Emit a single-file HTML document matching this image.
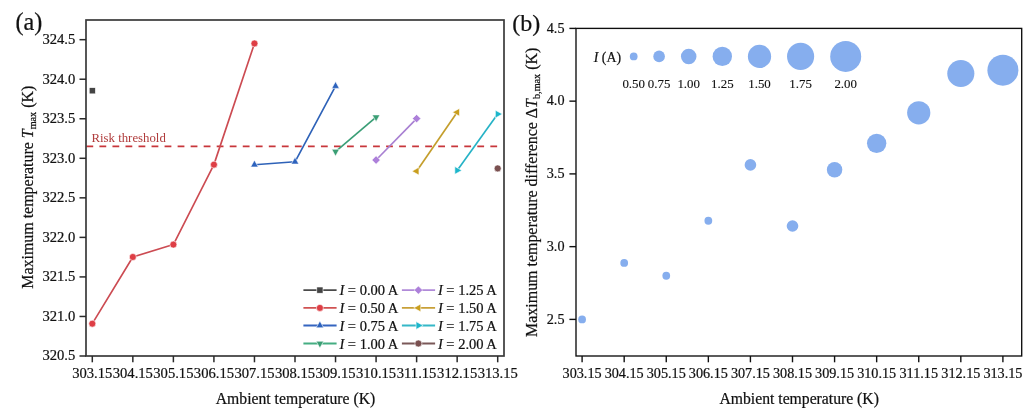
<!DOCTYPE html><html><head><meta charset="utf-8"><style>html,body{margin:0;padding:0;background:#fff;}svg{display:block;will-change:transform;}text{font-family:"Liberation Serif",serif;fill:#111;stroke:#111;stroke-width:0.22px;}</style></head><body>
<svg width="1024" height="409" viewBox="0 0 1024 409">
<rect width="1024" height="409" fill="#fff"/>
<line x1="86.4" y1="146.4" x2="499" y2="146.4" stroke="#c8363b" stroke-width="1.6" stroke-dasharray="6.8 6.23"/>
<text x="91.5" y="141.7" font-size="12.8" style="fill:#b03c3c;stroke:none">Risk threshold</text>
<rect x="89.20" y="87.67" width="6.20" height="6.20" fill="#444444" stroke="#fff" stroke-width="0.6"/>
<path d="M92.30 323.66L132.84 256.99L173.38 244.58L213.92 164.63L254.46 43.48" fill="none" stroke="#cc4b52" stroke-width="1.65" stroke-linejoin="round"/>
<circle cx="92.30" cy="323.66" r="3.50" fill="#de3e45" stroke="#fff" stroke-width="0.6"/>
<circle cx="132.84" cy="256.99" r="3.50" fill="#de3e45" stroke="#fff" stroke-width="0.6"/>
<circle cx="173.38" cy="244.58" r="3.50" fill="#de3e45" stroke="#fff" stroke-width="0.6"/>
<circle cx="213.92" cy="164.63" r="3.50" fill="#de3e45" stroke="#fff" stroke-width="0.6"/>
<circle cx="254.46" cy="43.48" r="3.50" fill="#de3e45" stroke="#fff" stroke-width="0.6"/>
<path d="M254.46 164.71L295.00 161.78L335.54 86.10" fill="none" stroke="#2e62b8" stroke-width="1.65" stroke-linejoin="round"/>
<path d="M254.46 160.15L258.26 166.99L250.66 166.99Z" fill="#2c62bd" stroke="#fff" stroke-width="0.6"/>
<path d="M295.00 157.22L298.80 164.06L291.20 164.06Z" fill="#2c62bd" stroke="#fff" stroke-width="0.6"/>
<path d="M335.54 81.54L339.34 88.38L331.74 88.38Z" fill="#2c62bd" stroke="#fff" stroke-width="0.6"/>
<path d="M335.54 151.58L376.08 117.18" fill="none" stroke="#3a9e76" stroke-width="1.65" stroke-linejoin="round"/>
<path d="M335.54 156.14L339.34 149.30L331.74 149.30Z" fill="#3a9e74" stroke="#fff" stroke-width="0.6"/>
<path d="M376.08 121.74L379.88 114.90L372.28 114.90Z" fill="#3a9e74" stroke="#fff" stroke-width="0.6"/>
<path d="M376.08 160.04L416.62 118.60" fill="none" stroke="#a880d2" stroke-width="1.65" stroke-linejoin="round"/>
<path d="M376.08 155.84L380.28 160.04L376.08 164.24L371.88 160.04Z" fill="#ad80da" stroke="#fff" stroke-width="0.6"/>
<path d="M416.62 114.40L420.82 118.60L416.62 122.80L412.42 118.60Z" fill="#ad80da" stroke="#fff" stroke-width="0.6"/>
<path d="M416.62 171.19L457.16 112.28" fill="none" stroke="#c49e2c" stroke-width="1.65" stroke-linejoin="round"/>
<path d="M411.94 171.19L418.96 167.29L418.96 175.09Z" fill="#c99e1e" stroke="#fff" stroke-width="0.6"/>
<path d="M452.48 112.28L459.50 108.38L459.50 116.18Z" fill="#c99e1e" stroke="#fff" stroke-width="0.6"/>
<path d="M457.16 170.40L497.70 114.09" fill="none" stroke="#25b2c6" stroke-width="1.65" stroke-linejoin="round"/>
<path d="M461.84 170.40L454.82 166.50L454.82 174.30Z" fill="#1cb6cb" stroke="#fff" stroke-width="0.6"/>
<path d="M502.38 114.09L495.36 110.19L495.36 117.99Z" fill="#1cb6cb" stroke="#fff" stroke-width="0.6"/>
<circle cx="497.70" cy="168.42" r="3.50" fill="#7a5050" stroke="#fff" stroke-width="0.6"/>
<rect x="86.0" y="20.0" width="418.0" height="336.0" fill="none" stroke="#3a3a3a" stroke-width="1.7"/>
<line x1="79.5" y1="356.00" x2="86.0" y2="356.00" stroke="#2a2a2a" stroke-width="1.5"/>
<text x="75.3" y="360.40" font-size="14.6" text-anchor="end">320.5</text>
<line x1="79.5" y1="316.46" x2="86.0" y2="316.46" stroke="#2a2a2a" stroke-width="1.5"/>
<text x="75.3" y="320.86" font-size="14.6" text-anchor="end">321.0</text>
<line x1="79.5" y1="276.92" x2="86.0" y2="276.92" stroke="#2a2a2a" stroke-width="1.5"/>
<text x="75.3" y="281.32" font-size="14.6" text-anchor="end">321.5</text>
<line x1="79.5" y1="237.38" x2="86.0" y2="237.38" stroke="#2a2a2a" stroke-width="1.5"/>
<text x="75.3" y="241.78" font-size="14.6" text-anchor="end">322.0</text>
<line x1="79.5" y1="197.84" x2="86.0" y2="197.84" stroke="#2a2a2a" stroke-width="1.5"/>
<text x="75.3" y="202.24" font-size="14.6" text-anchor="end">322.5</text>
<line x1="79.5" y1="158.30" x2="86.0" y2="158.30" stroke="#2a2a2a" stroke-width="1.5"/>
<text x="75.3" y="162.70" font-size="14.6" text-anchor="end">323.0</text>
<line x1="79.5" y1="118.76" x2="86.0" y2="118.76" stroke="#2a2a2a" stroke-width="1.5"/>
<text x="75.3" y="123.16" font-size="14.6" text-anchor="end">323.5</text>
<line x1="79.5" y1="79.22" x2="86.0" y2="79.22" stroke="#2a2a2a" stroke-width="1.5"/>
<text x="75.3" y="83.62" font-size="14.6" text-anchor="end">324.0</text>
<line x1="79.5" y1="39.68" x2="86.0" y2="39.68" stroke="#2a2a2a" stroke-width="1.5"/>
<text x="75.3" y="44.08" font-size="14.6" text-anchor="end">324.5</text>
<line x1="92.30" y1="356.0" x2="92.30" y2="362.3" stroke="#2a2a2a" stroke-width="1.5"/>
<text x="92.30" y="378.1" font-size="14.6" text-anchor="middle">303.15</text>
<line x1="132.84" y1="356.0" x2="132.84" y2="362.3" stroke="#2a2a2a" stroke-width="1.5"/>
<text x="132.84" y="378.1" font-size="14.6" text-anchor="middle">304.15</text>
<line x1="173.38" y1="356.0" x2="173.38" y2="362.3" stroke="#2a2a2a" stroke-width="1.5"/>
<text x="173.38" y="378.1" font-size="14.6" text-anchor="middle">305.15</text>
<line x1="213.92" y1="356.0" x2="213.92" y2="362.3" stroke="#2a2a2a" stroke-width="1.5"/>
<text x="213.92" y="378.1" font-size="14.6" text-anchor="middle">306.15</text>
<line x1="254.46" y1="356.0" x2="254.46" y2="362.3" stroke="#2a2a2a" stroke-width="1.5"/>
<text x="254.46" y="378.1" font-size="14.6" text-anchor="middle">307.15</text>
<line x1="295.00" y1="356.0" x2="295.00" y2="362.3" stroke="#2a2a2a" stroke-width="1.5"/>
<text x="295.00" y="378.1" font-size="14.6" text-anchor="middle">308.15</text>
<line x1="335.54" y1="356.0" x2="335.54" y2="362.3" stroke="#2a2a2a" stroke-width="1.5"/>
<text x="335.54" y="378.1" font-size="14.6" text-anchor="middle">309.15</text>
<line x1="376.08" y1="356.0" x2="376.08" y2="362.3" stroke="#2a2a2a" stroke-width="1.5"/>
<text x="376.08" y="378.1" font-size="14.6" text-anchor="middle">310.15</text>
<line x1="416.62" y1="356.0" x2="416.62" y2="362.3" stroke="#2a2a2a" stroke-width="1.5"/>
<text x="416.62" y="378.1" font-size="14.6" text-anchor="middle">311.15</text>
<line x1="457.16" y1="356.0" x2="457.16" y2="362.3" stroke="#2a2a2a" stroke-width="1.5"/>
<text x="457.16" y="378.1" font-size="14.6" text-anchor="middle">312.15</text>
<line x1="497.70" y1="356.0" x2="497.70" y2="362.3" stroke="#2a2a2a" stroke-width="1.5"/>
<text x="497.70" y="378.1" font-size="14.6" text-anchor="middle">313.15</text>
<text x="295.5" y="404.1" font-size="15.7" text-anchor="middle">Ambient temperature (K)</text>
<text transform="translate(33,187.2) rotate(-90)" font-size="15.95" text-anchor="middle">Maximum temperature <tspan font-style="italic">T</tspan><tspan font-size="10.2" dy="3">max</tspan><tspan dy="-3"> (K)</tspan></text>
<text x="15.4" y="30.2" font-size="24.2">(a)</text>
<line x1="303.40" y1="290.10" x2="336.60" y2="290.10" stroke="#4a4a4a" stroke-width="1.85"/>
<rect x="316.80" y="287.00" width="6.20" height="6.20" fill="#444444" stroke="#fff" stroke-width="0.6"/>
<text x="339.40" y="295.10" font-size="14.5"><tspan font-style="italic">I</tspan> = 0.00 A</text>
<line x1="303.40" y1="307.90" x2="336.60" y2="307.90" stroke="#d05252" stroke-width="1.85"/>
<circle cx="319.90" cy="307.90" r="3.50" fill="#de3e45" stroke="#fff" stroke-width="0.6"/>
<text x="339.40" y="312.90" font-size="14.5"><tspan font-style="italic">I</tspan> = 0.50 A</text>
<line x1="303.40" y1="325.50" x2="336.60" y2="325.50" stroke="#3565c0" stroke-width="1.85"/>
<path d="M319.90 320.94L323.70 327.78L316.10 327.78Z" fill="#2c62bd" stroke="#fff" stroke-width="0.6"/>
<text x="339.40" y="330.50" font-size="14.5"><tspan font-style="italic">I</tspan> = 0.75 A</text>
<line x1="303.40" y1="343.50" x2="336.60" y2="343.50" stroke="#45ad82" stroke-width="1.85"/>
<path d="M319.90 348.06L323.70 341.22L316.10 341.22Z" fill="#3a9e74" stroke="#fff" stroke-width="0.6"/>
<text x="339.40" y="348.50" font-size="14.5"><tspan font-style="italic">I</tspan> = 1.00 A</text>
<line x1="401.90" y1="290.10" x2="435.10" y2="290.10" stroke="#b08ad8" stroke-width="1.85"/>
<path d="M418.40 285.90L422.60 290.10L418.40 294.30L414.20 290.10Z" fill="#ad80da" stroke="#fff" stroke-width="0.6"/>
<text x="437.90" y="295.10" font-size="14.5"><tspan font-style="italic">I</tspan> = 1.25 A</text>
<line x1="401.90" y1="307.90" x2="435.10" y2="307.90" stroke="#c8a038" stroke-width="1.85"/>
<path d="M413.72 307.90L420.74 304.00L420.74 311.80Z" fill="#c99e1e" stroke="#fff" stroke-width="0.6"/>
<text x="437.90" y="312.90" font-size="14.5"><tspan font-style="italic">I</tspan> = 1.50 A</text>
<line x1="401.90" y1="325.50" x2="435.10" y2="325.50" stroke="#35b8c8" stroke-width="1.85"/>
<path d="M423.08 325.50L416.06 321.60L416.06 329.40Z" fill="#1cb6cb" stroke="#fff" stroke-width="0.6"/>
<text x="437.90" y="330.50" font-size="14.5"><tspan font-style="italic">I</tspan> = 1.75 A</text>
<line x1="401.90" y1="343.50" x2="435.10" y2="343.50" stroke="#7a5858" stroke-width="1.85"/>
<circle cx="418.40" cy="343.50" r="3.50" fill="#7a5050" stroke="#fff" stroke-width="0.6"/>
<text x="437.90" y="348.50" font-size="14.5"><tspan font-style="italic">I</tspan> = 2.00 A</text>
<circle cx="582.10" cy="319.40" r="3.88" fill="#86aeee"/>
<circle cx="624.18" cy="262.95" r="3.88" fill="#86aeee"/>
<circle cx="666.26" cy="275.75" r="3.88" fill="#86aeee"/>
<circle cx="708.34" cy="220.75" r="3.88" fill="#86aeee"/>
<circle cx="750.42" cy="164.88" r="5.81" fill="#86aeee"/>
<circle cx="792.50" cy="225.99" r="5.81" fill="#86aeee"/>
<circle cx="834.58" cy="169.83" r="7.75" fill="#86aeee"/>
<circle cx="876.66" cy="143.34" r="9.69" fill="#86aeee"/>
<circle cx="918.74" cy="112.79" r="11.62" fill="#86aeee"/>
<circle cx="960.82" cy="73.50" r="13.56" fill="#86aeee"/>
<circle cx="1002.90" cy="70.16" r="15.50" fill="#86aeee"/>
<rect x="576.0" y="28.4" width="445.70000000000005" height="327.6" fill="none" stroke="#0d0d0d" stroke-width="1.35"/>
<line x1="569.4" y1="319.40" x2="576.0" y2="319.40" stroke="#111" stroke-width="1.4"/>
<text x="564.5" y="323.70" font-size="14.2" text-anchor="end">2.5</text>
<line x1="569.4" y1="246.65" x2="576.0" y2="246.65" stroke="#111" stroke-width="1.4"/>
<text x="564.5" y="250.95" font-size="14.2" text-anchor="end">3.0</text>
<line x1="569.4" y1="173.90" x2="576.0" y2="173.90" stroke="#111" stroke-width="1.4"/>
<text x="564.5" y="178.20" font-size="14.2" text-anchor="end">3.5</text>
<line x1="569.4" y1="101.15" x2="576.0" y2="101.15" stroke="#111" stroke-width="1.4"/>
<text x="564.5" y="105.45" font-size="14.2" text-anchor="end">4.0</text>
<line x1="569.4" y1="28.40" x2="576.0" y2="28.40" stroke="#111" stroke-width="1.4"/>
<text x="564.5" y="32.70" font-size="14.2" text-anchor="end">4.5</text>
<line x1="582.10" y1="356.0" x2="582.10" y2="362.3" stroke="#111" stroke-width="1.4"/>
<text x="582.10" y="377.9" font-size="14.2" text-anchor="middle">303.15</text>
<line x1="624.18" y1="356.0" x2="624.18" y2="362.3" stroke="#111" stroke-width="1.4"/>
<text x="624.18" y="377.9" font-size="14.2" text-anchor="middle">304.15</text>
<line x1="666.26" y1="356.0" x2="666.26" y2="362.3" stroke="#111" stroke-width="1.4"/>
<text x="666.26" y="377.9" font-size="14.2" text-anchor="middle">305.15</text>
<line x1="708.34" y1="356.0" x2="708.34" y2="362.3" stroke="#111" stroke-width="1.4"/>
<text x="708.34" y="377.9" font-size="14.2" text-anchor="middle">306.15</text>
<line x1="750.42" y1="356.0" x2="750.42" y2="362.3" stroke="#111" stroke-width="1.4"/>
<text x="750.42" y="377.9" font-size="14.2" text-anchor="middle">307.15</text>
<line x1="792.50" y1="356.0" x2="792.50" y2="362.3" stroke="#111" stroke-width="1.4"/>
<text x="792.50" y="377.9" font-size="14.2" text-anchor="middle">308.15</text>
<line x1="834.58" y1="356.0" x2="834.58" y2="362.3" stroke="#111" stroke-width="1.4"/>
<text x="834.58" y="377.9" font-size="14.2" text-anchor="middle">309.15</text>
<line x1="876.66" y1="356.0" x2="876.66" y2="362.3" stroke="#111" stroke-width="1.4"/>
<text x="876.66" y="377.9" font-size="14.2" text-anchor="middle">310.15</text>
<line x1="918.74" y1="356.0" x2="918.74" y2="362.3" stroke="#111" stroke-width="1.4"/>
<text x="918.74" y="377.9" font-size="14.2" text-anchor="middle">311.15</text>
<line x1="960.82" y1="356.0" x2="960.82" y2="362.3" stroke="#111" stroke-width="1.4"/>
<text x="960.82" y="377.9" font-size="14.2" text-anchor="middle">312.15</text>
<line x1="1002.90" y1="356.0" x2="1002.90" y2="362.3" stroke="#111" stroke-width="1.4"/>
<text x="1002.90" y="377.9" font-size="14.2" text-anchor="middle">313.15</text>
<text x="799.2" y="403.8" font-size="15.7" text-anchor="middle">Ambient temperature (K)</text>
<text transform="translate(536.5,192.3) rotate(-90)" font-size="15.95" text-anchor="middle">Maximum temperature difference Δ<tspan font-style="italic">T</tspan><tspan font-size="10.2" dy="3">b,max</tspan><tspan dy="-3"> (K)</tspan></text>
<text x="512.2" y="30.7" font-size="24">(b)</text>
<circle cx="633.70" cy="56.4" r="3.88" fill="#86aeee"/>
<text x="633.70" y="88.3" font-size="12.9" text-anchor="middle" style="stroke-width:0.12px">0.50</text>
<circle cx="659.10" cy="56.4" r="5.81" fill="#86aeee"/>
<text x="659.10" y="88.3" font-size="12.9" text-anchor="middle" style="stroke-width:0.12px">0.75</text>
<circle cx="688.70" cy="56.4" r="7.75" fill="#86aeee"/>
<text x="688.70" y="88.3" font-size="12.9" text-anchor="middle" style="stroke-width:0.12px">1.00</text>
<circle cx="722.30" cy="56.4" r="9.69" fill="#86aeee"/>
<text x="722.30" y="88.3" font-size="12.9" text-anchor="middle" style="stroke-width:0.12px">1.25</text>
<circle cx="759.50" cy="56.4" r="11.62" fill="#86aeee"/>
<text x="759.50" y="88.3" font-size="12.9" text-anchor="middle" style="stroke-width:0.12px">1.50</text>
<circle cx="800.60" cy="56.4" r="13.56" fill="#86aeee"/>
<text x="800.60" y="88.3" font-size="12.9" text-anchor="middle" style="stroke-width:0.12px">1.75</text>
<circle cx="845.70" cy="56.4" r="15.50" fill="#86aeee"/>
<text x="845.70" y="88.3" font-size="12.9" text-anchor="middle" style="stroke-width:0.12px">2.00</text>
<text x="593.8" y="61.5" font-size="13.8"><tspan font-style="italic">I</tspan> (A)</text>
</svg></body></html>
